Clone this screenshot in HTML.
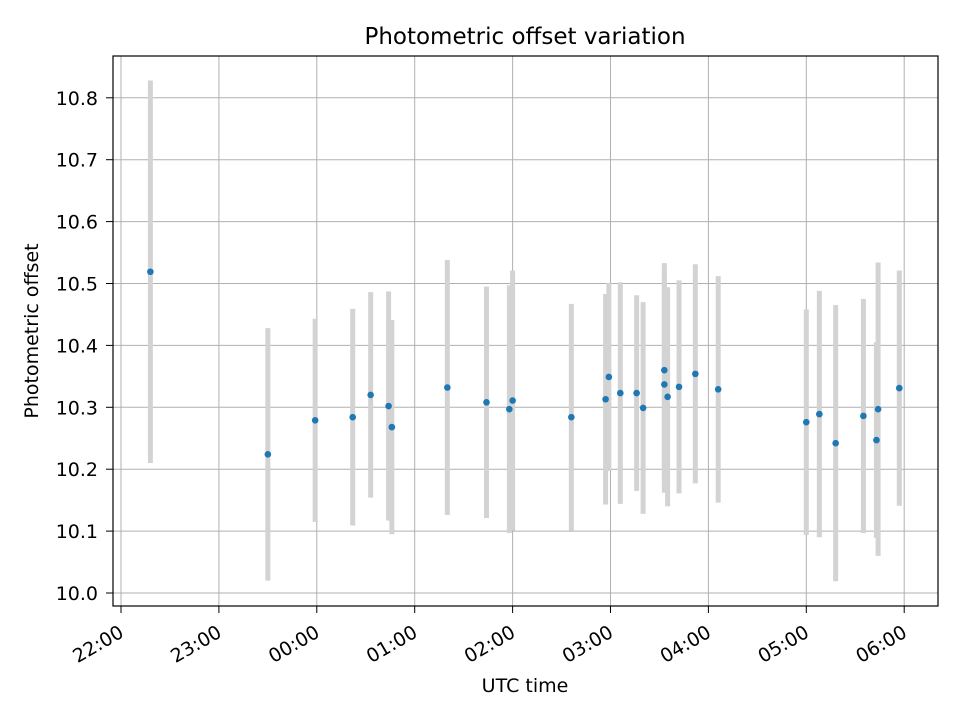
<!DOCTYPE html>
<html><head><meta charset="utf-8"><style>
body{margin:0;background:#fff;font-family:"DejaVu Sans","Liberation Sans",sans-serif}
svg text{font-family:"DejaVu Sans","Liberation Sans",sans-serif;fill:#000}
</style></head><body>
<svg id="chart" width="960" height="720" viewBox="0 0 960 720" xmlns="http://www.w3.org/2000/svg">
<rect width="960" height="720" fill="#fff"/>
<g id="grid"></g><g id="bars"></g><g id="pts"></g>
<rect x="113" y="56" width="825" height="550" fill="none" stroke="#000" stroke-width="1.2"/>
<g id="axes"></g>
<text x="525" y="44" font-size="23" text-anchor="middle">Photometric offset variation</text>
<text x="525" y="692" font-size="19" text-anchor="middle">UTC time</text>
<text x="38" y="331" font-size="19" text-anchor="middle" transform="rotate(-90 38 331)">Photometric offset</text>
</svg>
<script>
// minutes after 22:00 UTC
const times=[18,90,119,142,153,164,166,200,224,238,240,276,297,299,306,316,320,333,333,335,342,352,366,420,428,438,455,463,464,477];
const offsets=[10.519,10.224,10.279,10.284,10.320,10.302,10.268,10.332,10.308,10.297,10.311,10.284,10.313,10.349,10.323,10.323,10.299,10.337,10.360,10.317,10.333,10.354,10.329,10.276,10.289,10.242,10.286,10.247,10.297,10.331];
const errors=[0.309,0.204,0.164,0.175,0.166,0.185,0.173,0.206,0.187,0.2,0.21,0.183,0.17,0.152,0.179,0.158,0.171,0.175,0.173,0.177,0.172,0.177,0.183,0.182,0.199,0.223,0.189,0.158,0.237,0.19];
const yTicks=[10.0,10.1,10.2,10.3,10.4,10.5,10.6,10.7,10.8];
const xTickLabels=["22:00","23:00","00:00","01:00","02:00","03:00","04:00","05:00","06:00"];
const NS="http://www.w3.org/2000/svg";
const X=m=>121+m*97.9/60;
const Y=v=>593-(v-10)*619;
function mk(t,a,p){const e=document.createElementNS(NS,t);for(const k in a)e.setAttribute(k,a[k]);p.appendChild(e);return e;}
const grid=document.getElementById('grid'),axes=document.getElementById('axes');
yTicks.forEach((v,i)=>{const y=Y(v);
 const g=mk('line',{x1:113,x2:938,y1:y,y2:y,stroke:'#b0b0b0','stroke-width':1},grid);
 
 
 mk('line',{x1:106,x2:113,y1:y,y2:y,stroke:'#000'},axes);
 const t=mk('text',{x:98,y:y+7,'font-size':19,'text-anchor':'end'},axes);
 
 
 t.textContent=v.toFixed(1);
});
xTickLabels.forEach((s,i)=>{const x=X(i*60);
 const g=mk('line',{x1:x,x2:x,y1:56,y2:606,stroke:'#b0b0b0','stroke-width':1},grid);
 
 
 mk('line',{x1:x,x2:x,y1:606,y2:613,stroke:'#000'},axes);
 const t=mk('text',{x:x+4,y:636,'font-size':19,'text-anchor':'end',transform:`rotate(-30 ${x+4} 636)`},axes);
 
 
 t.textContent=s;
});
const bars=document.getElementById('bars'),pts=document.getElementById('pts');
times.forEach((m,i)=>{const x=X(m);
 const b=mk('line',{x1:x,x2:x,y1:Y(offsets[i]+errors[i]),y2:Y(offsets[i]-errors[i]),stroke:'#d3d3d3','stroke-width':5},bars);
 
 
 const c=mk('circle',{cx:x,cy:Y(offsets[i]),r:3.3,fill:'#1f77b4'},pts);
 
 
});
</script>
</body></html>
